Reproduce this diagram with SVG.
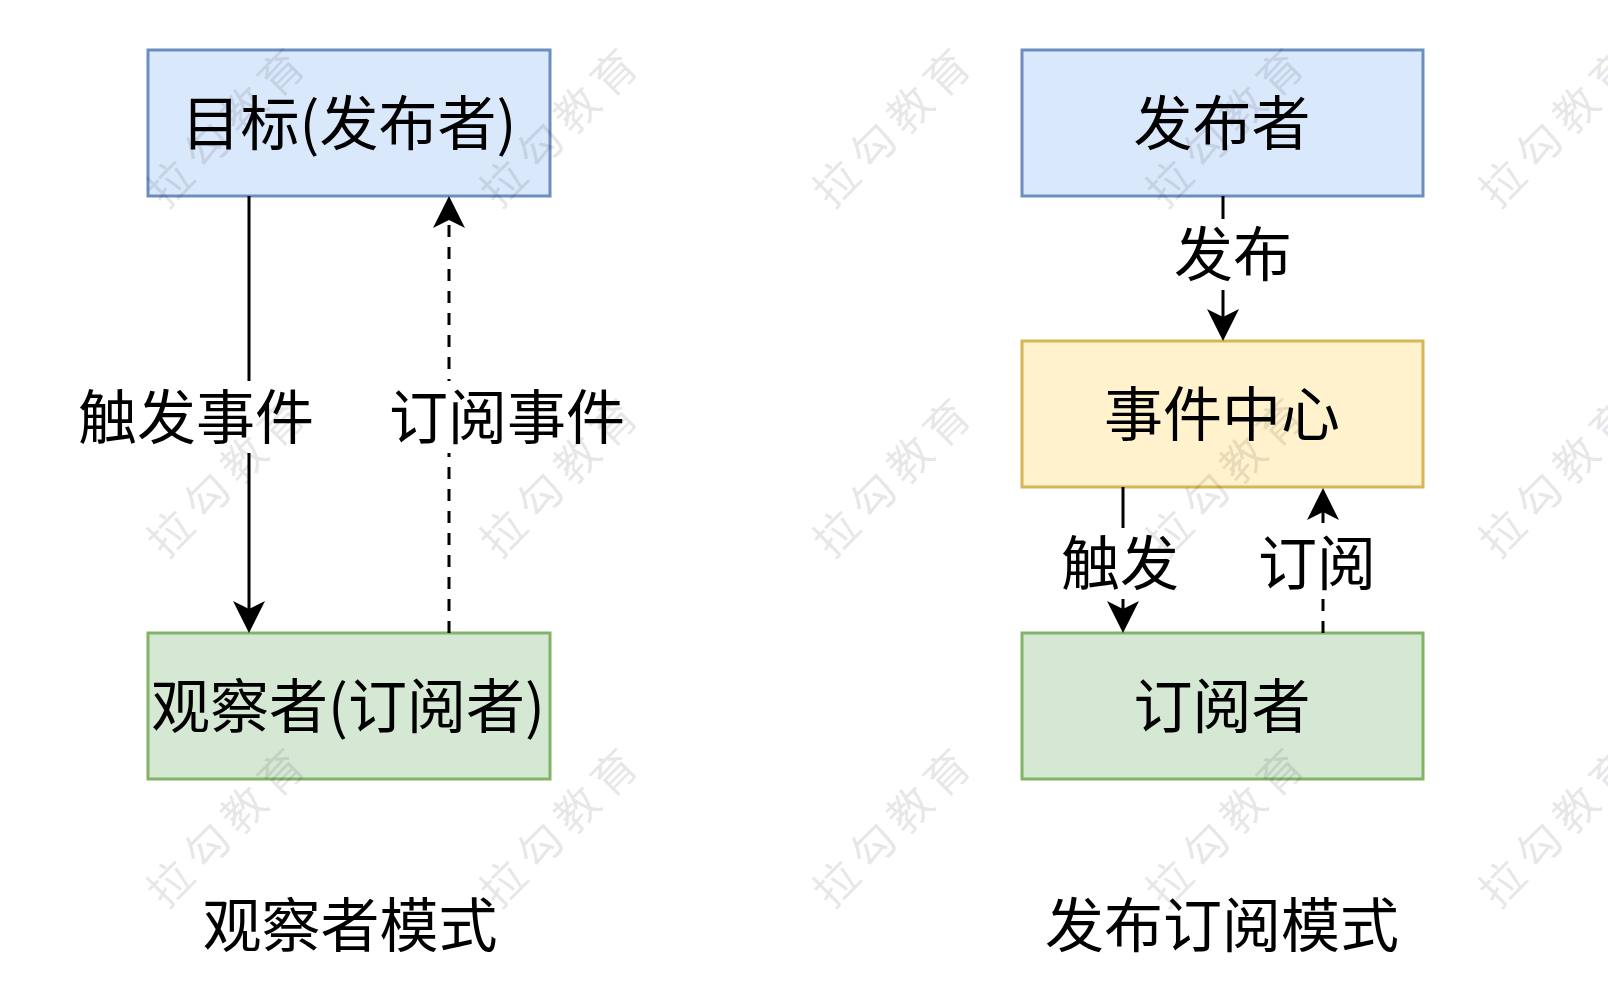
<svg xmlns="http://www.w3.org/2000/svg" width="1608" height="1000" viewBox="0 0 1608 1000">
  <defs>
    <style>
      text { font-family: "Noto Sans CJK SC", "Microsoft YaHei", "DejaVu Sans", sans-serif; fill: #000; }
      .t { font-size: 59px; text-anchor: middle; }
      .blue { fill: #dae8fc; stroke: #6c8ebf; stroke-width: 3; }
      .yellow { fill: #fff2cc; stroke: #d6b656; stroke-width: 3; }
      .green { fill: #d5e8d4; stroke: #82b366; stroke-width: 3; }
      .edge { fill: none; stroke: #000; stroke-width: 3; marker-end: url(#arr); }
      .dash { stroke-dasharray: 12 10; }
      .lbg { fill: #fff; stroke: none; }
      .wm { font-size: 44px; letter-spacing: 8px; text-anchor: middle; fill: #000; fill-opacity: 0.1; }
    </style>
    <marker id="arr" markerUnits="userSpaceOnUse" markerWidth="40" markerHeight="40" viewBox="-2 -20 40 40" refX="8" refY="0" orient="auto" overflow="visible">
      <path d="M0,-16 L32,0 L0,16 L8,0 Z" fill="#000"/>
    </marker>
  </defs>
  <rect x="0" y="0" width="1608" height="1000" fill="#fff"/>

  <!-- Observer pattern -->
  <g id="subject">
    <rect class="blue" x="148" y="50" width="402" height="146"/>
    <text class="t" x="349" y="145">目标(发布者)</text>
  </g>
  <g id="observer">
    <rect class="green" x="148" y="633" width="402" height="146"/>
    <text class="t" x="348" y="728">观察者(订阅者)</text>
  </g>
  <g id="caption-observer">
    <text class="t" x="350" y="947">观察者模式</text>
  </g>

  <!-- Publish/subscribe pattern -->
  <g id="publisher">
    <rect class="blue" x="1022" y="50" width="401" height="146"/>
    <text class="t" x="1222" y="145">发布者</text>
  </g>
  <g id="event-center">
    <rect class="yellow" x="1022" y="341" width="401" height="146"/>
    <text class="t" x="1222" y="436">事件中心</text>
  </g>
  <g id="subscriber">
    <rect class="green" x="1022" y="633" width="401" height="146"/>
    <text class="t" x="1222" y="728">订阅者</text>
  </g>
  <g id="caption-pubsub">
    <text class="t" x="1222" y="947">发布订阅模式</text>
  </g>

  <g id="connectors">
    <line class="edge" x1="249" y1="196" x2="249" y2="609"/>
    <rect class="lbg" x="76" y="381" width="240" height="72"/>
    <text class="t" x="196" y="439">触发事件</text>

    <line class="edge dash" x1="449" y1="633" x2="449" y2="220"/>
    <rect class="lbg" x="387" y="381" width="240" height="72"/>
    <text class="t" x="507" y="439">订阅事件</text>

    <line class="edge" x1="1223" y1="196" x2="1223" y2="317"/>
    <rect class="lbg" x="1172" y="219" width="122" height="71"/>
    <text class="t" x="1233" y="276">发布</text>

    <line class="edge" x1="1123" y1="487" x2="1123" y2="609"/>
    <rect class="lbg" x="1059" y="528" width="122" height="71"/>
    <text class="t" x="1120" y="585">触发</text>

    <line class="edge dash" x1="1323" y1="633" x2="1323" y2="512"/>
    <rect class="lbg" x="1256" y="528" width="122" height="71"/>
    <text class="t" x="1317" y="585">订阅</text>
  </g>

  <g id="watermarks">
    <text class="wm" transform="translate(229,126) rotate(-45)" y="15">拉勾教育</text>
    <text class="wm" transform="translate(562,126) rotate(-45)" y="15">拉勾教育</text>
    <text class="wm" transform="translate(895,126) rotate(-45)" y="15">拉勾教育</text>
    <text class="wm" transform="translate(1228,126) rotate(-45)" y="15">拉勾教育</text>
    <text class="wm" transform="translate(1561,126) rotate(-45)" y="15">拉勾教育</text>
    <text class="wm" transform="translate(229,476) rotate(-45)" y="15">拉勾教育</text>
    <text class="wm" transform="translate(562,476) rotate(-45)" y="15">拉勾教育</text>
    <text class="wm" transform="translate(895,476) rotate(-45)" y="15">拉勾教育</text>
    <text class="wm" transform="translate(1228,476) rotate(-45)" y="15">拉勾教育</text>
    <text class="wm" transform="translate(1561,476) rotate(-45)" y="15">拉勾教育</text>
    <text class="wm" transform="translate(229,826) rotate(-45)" y="15">拉勾教育</text>
    <text class="wm" transform="translate(562,826) rotate(-45)" y="15">拉勾教育</text>
    <text class="wm" transform="translate(895,826) rotate(-45)" y="15">拉勾教育</text>
    <text class="wm" transform="translate(1228,826) rotate(-45)" y="15">拉勾教育</text>
    <text class="wm" transform="translate(1561,826) rotate(-45)" y="15">拉勾教育</text>
  </g>
</svg>
